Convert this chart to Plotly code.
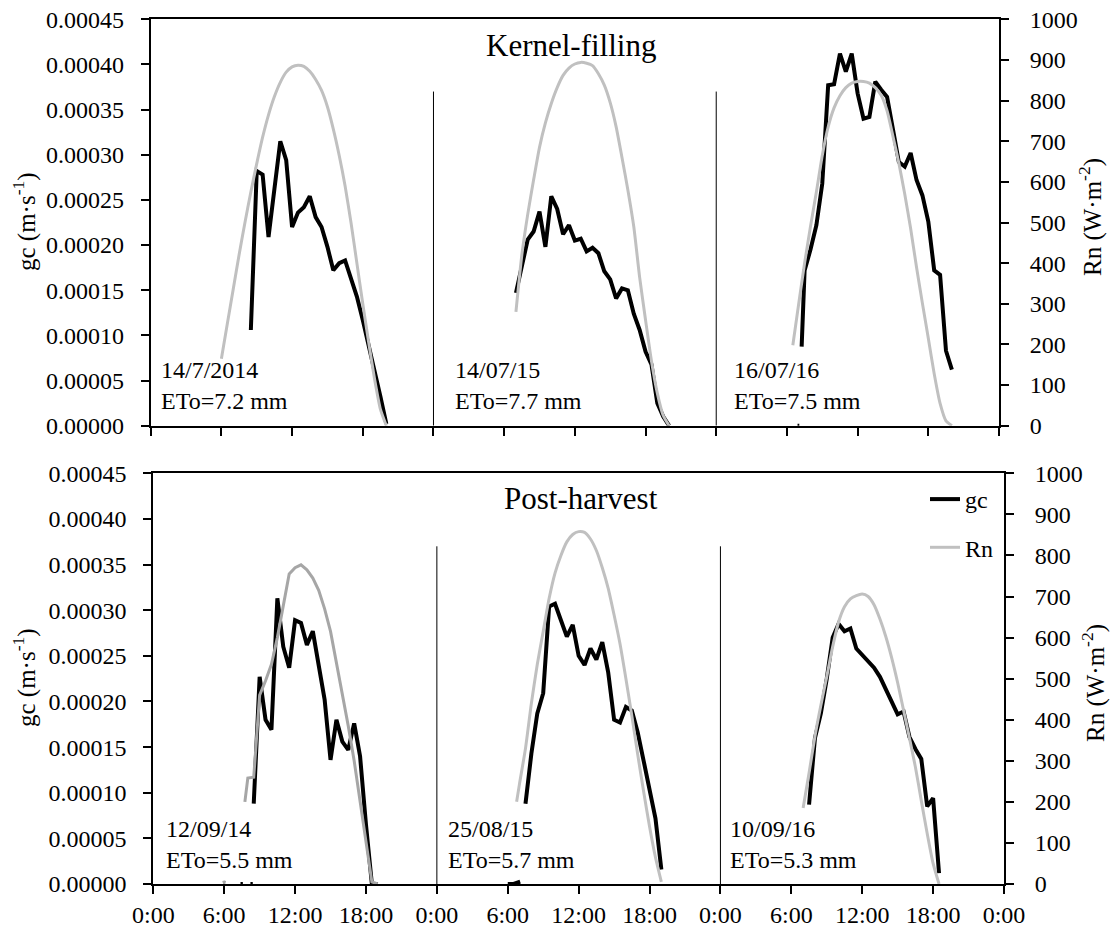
import plotly.graph_objects as go

# ---------------- data (hours of each day) ----------------
# Kernel-filling (top panel)
kf_dates = ["14/7/2014", "14/07/15", "16/07/16"]
kf_eto = ["ETo=7.2 mm", "ETo=7.7 mm", "ETo=7.5 mm"]

kf1_gc_t = [8.5, 9.0, 9.5, 10.0, 10.5, 11.0, 11.5, 12.0, 12.5, 13.0, 13.5, 14.0, 14.5, 15.0,
            15.5, 16.0, 16.5, 17.0, 17.5, 18.0, 18.5, 19.0, 19.5, 20.0]
kf1_gc = [0.000106, 0.000282, 0.000278, 0.000209, 0.000262, 0.000315, 0.000294, 0.000220,
          0.000236, 0.000242, 0.000254, 0.000231, 0.000220, 0.000198, 0.000172, 0.000180,
          0.000183, 0.000163, 0.000143, 0.000117, 0.000090, 0.000062, 0.000032, 0.000002]
kf1_rn_t = [6.0, 6.5, 7.0, 7.5, 8.0, 8.5, 9.0, 9.5, 10.0, 10.5, 11.0, 11.5, 12.0, 12.5, 13.0,
            13.5, 14.0, 14.5, 15.0, 15.5, 16.0, 16.5, 17.0, 17.5, 18.0, 18.5, 19.0, 19.5, 20.0]
kf1_rn = [165, 250, 335, 420, 500, 575, 645, 710, 765, 810, 845, 870, 883, 887, 884, 872, 852,
          825, 785, 730, 665, 590, 500, 400, 300, 205, 115, 40, 0]

kf2_gc_t = [7.0, 7.5, 8.0, 8.5, 9.0, 9.5, 10.0, 10.5, 11.0, 11.5, 12.0, 12.5, 13.0, 13.5, 14.0,
            14.5, 15.0, 15.5, 16.0, 16.5, 17.0, 17.5, 18.0, 18.5, 19.0, 19.5, 20.0]
kf2_gc = [0.000147, 0.000175, 0.000206, 0.000215, 0.000237, 0.000198, 0.000254, 0.000240,
          0.000212, 0.000222, 0.000205, 0.000207, 0.000193, 0.000197, 0.000191, 0.000171,
          0.000162, 0.000141, 0.000152, 0.000150, 0.000124, 0.000106, 0.000082, 0.000068,
          0.000025, 0.000010, 0.000000]
kf2_rn_t = [7.0, 7.5, 8.0, 8.5, 9.0, 9.5, 10.0, 10.5, 11.0, 11.5, 12.0, 12.5, 13.0, 13.5, 14.0,
            14.5, 15.0, 15.5, 16.0, 16.5, 17.0, 17.5, 18.0, 18.5, 19.0, 19.5, 20.0]
kf2_rn = [280, 420, 520, 605, 685, 745, 793, 832, 862, 880, 890, 894, 892, 886, 866, 838, 795,
          736, 660, 580, 490, 365, 260, 160, 80, 25, 0]

kf3_gc_t = [7.25, 7.5, 8.0, 8.5, 9.0, 9.5, 10.0, 10.5, 11.0, 11.5, 12.0, 12.5, 13.0, 13.5, 14.0,
            14.5, 15.0, 15.5, 16.0, 16.5, 17.0, 17.5, 18.0, 18.5, 19.0, 19.5, 20.0]
kf3_gc = [0.0000875, 0.000172, 0.000195, 0.000222, 0.000268, 0.000377, 0.000378, 0.000412,
          0.000392, 0.000412, 0.000368, 0.000340, 0.000342, 0.000381, 0.000372, 0.000364,
          0.000328, 0.000292, 0.000287, 0.000302, 0.000272, 0.000255, 0.000226, 0.000172,
          0.000167, 0.000083, 0.000062]
kf3_gc_mark_t = [6.9, 7.05]
kf3_gc_mark = [0.0, 0.0]
kf3_rn_t = [6.5, 7.0, 7.5, 8.0, 8.5, 9.0, 9.5, 10.0, 10.5, 11.0, 11.5, 12.0, 12.5, 13.0, 13.5,
            14.0, 14.5, 15.0, 15.5, 16.0, 16.5, 17.0, 17.5, 18.0, 18.5, 19.0, 19.5, 20.0]
kf3_rn = [198, 300, 400, 490, 575, 665, 735, 782, 812, 832, 843, 847, 847, 843, 832, 813, 775,
          712, 646, 570, 485, 390, 301, 215, 128, 55, 12, 0]

# Post-harvest (bottom panel)
ph_dates = ["12/09/14", "25/08/15", "10/09/16"]
ph_eto = ["ETo=5.5 mm", "ETo=5.7 mm", "ETo=5.3 mm"]

ph1_gc_t = [8.5, 9.0, 9.5, 10.0, 10.5, 11.0, 11.5, 12.0, 12.5, 13.0, 13.5, 14.0, 14.5, 15.0,
            15.5, 16.0, 16.5, 17.0, 17.5, 18.0, 18.5, 19.0]
ph1_gc = [0.000088, 0.000227, 0.000180, 0.000169, 0.000313, 0.000260, 0.000237, 0.000289,
          0.000286, 0.000262, 0.000277, 0.000238, 0.000202, 0.000136, 0.000180, 0.000156,
          0.000147, 0.000176, 0.000140, 0.000065, 0.000000, 0.000000]
ph1_gc_mark_t = [7.38, 7.58, None, 8.22, 8.42]
ph1_gc_mark = [0.0, 0.0, None, 0.0, 0.0]
ph1_rn_t = [7.75, 8.0, 8.5, 9.0, 9.5, 10.0, 10.5, 11.0, 11.5, 12.0, 12.5, 13.0, 13.5, 14.0,
            14.5, 15.0, 15.5, 16.0, 16.5, 17.0, 17.5, 18.0, 18.5, 19.0]
ph1_rn = [200, 258, 260, 460, 495, 535, 600, 680, 755, 770, 777, 765, 745, 715, 670, 615, 540,
          460, 385, 300, 205, 100, 5, 0]
ph1_rn_mark_t = [5.92, 6.0, 6.08]
ph1_rn_mark = [8, 0, 8]

ph2_gc_t = [7.5, 8.0, 8.5, 9.0, 9.5, 10.0, 10.5, 11.0, 11.5, 12.0, 12.5, 13.0, 13.5, 14.0,
            14.5, 15.0, 15.5, 16.0, 16.5, 17.0, 17.5, 18.0, 18.5, 19.0]
ph2_gc = [0.000088, 0.000143, 0.000187, 0.000209, 0.000304, 0.000307, 0.000289, 0.000271,
          0.000284, 0.000250, 0.000240, 0.000258, 0.000246, 0.000265, 0.000232, 0.000180,
          0.000177, 0.000194, 0.000190, 0.000166, 0.000135, 0.000102, 0.000072, 0.000016]
ph2_gc_mark_t = [6.0, 6.5, 7.05]
ph2_gc_mark = [0.0, 0.0, 0.0000025]
ph2_rn_t = [6.75, 7.0, 7.5, 8.0, 8.5, 9.0, 9.5, 10.0, 10.5, 11.0, 11.5, 12.0, 12.5, 13.0, 13.5,
            14.0, 14.5, 15.0, 15.5, 16.0, 16.5, 17.0, 17.5, 18.0, 18.5, 19.0]
ph2_rn = [200, 245, 330, 440, 535, 615, 695, 757, 800, 833, 851, 858, 856, 840, 812, 770, 720,
          655, 585, 500, 410, 315, 225, 140, 65, 5]

ph3_gc_t = [7.5, 8.0, 8.5, 9.0, 9.5, 10.0, 10.5, 11.0, 11.5, 12.0, 12.5, 13.0, 13.5, 14.0,
            14.5, 15.0, 15.5, 16.0, 16.5, 17.0, 17.5, 18.0, 18.5]
ph3_gc = [0.000087, 0.000160, 0.000187, 0.000225, 0.000270, 0.000285, 0.000277, 0.000280,
          0.000258, 0.000251, 0.000245, 0.000237, 0.000227, 0.000214, 0.000200, 0.000186,
          0.000189, 0.000161, 0.000148, 0.000137, 0.000085, 0.000094, 0.000012]
ph3_rn_t = [7.0, 7.5, 8.0, 8.5, 9.0, 9.5, 10.0, 10.5, 11.0, 11.5, 12.0, 12.5, 13.0, 13.5, 14.0,
            14.5, 15.0, 15.5, 16.0, 16.5, 17.0, 17.5, 18.0, 18.5]
ph3_rn = [185, 270, 360, 435, 505, 578, 638, 675, 694, 702, 706, 700, 680, 645, 602, 550, 490,
          423, 355, 285, 203, 123, 50, 0]

x_tickvals = [0, 6, 12, 18, 24, 30, 36, 42, 48, 54, 60, 66, 72]
x_ticktext = ["0:00", "6:00", "12:00", "18:00"] * 3 + ["0:00"]
gc_ticks = [0.0, 0.00005, 0.0001, 0.00015, 0.0002, 0.00025, 0.0003, 0.00035, 0.0004, 0.00045]
gc_ticktext = ["%.5f" % v for v in gc_ticks]
rn_ticks = list(range(0, 1001, 100))
separator_days = [24, 48]
separator_top = 0.00037

# ---------------- styling ----------------
W, H = 1114, 930
FONT = "Times New Roman, Liberation Serif, serif"
BLACK = "#000000"
GREY = "#c0c0c0"
GREY_DARK = "#a6a6a6"
TS = 24   # tick / label size


def fx(p):
    return p / W


def fy(p):
    return 1 - p / H


def shift(t, d):
    return [None if v is None else v + 24 * d for v in t]


fig = go.Figure()

panels = [
    dict(xa="x", ya="y", ya2="y2",
         gc=[(kf1_gc_t, kf1_gc), (kf2_gc_t, kf2_gc), (kf3_gc_t, kf3_gc)],
         gcm=[None, None, (kf3_gc_mark_t, kf3_gc_mark)],
         rn=[(kf1_rn_t, kf1_rn, GREY, "spline"), (kf2_rn_t, kf2_rn, GREY, "spline"),
             (kf3_rn_t, kf3_rn, GREY, "spline")],
         rnm=[None, None, None]),
    dict(xa="x2", ya="y3", ya2="y4",
         gc=[(ph1_gc_t, ph1_gc), (ph2_gc_t, ph2_gc), (ph3_gc_t, ph3_gc)],
         gcm=[(ph1_gc_mark_t, ph1_gc_mark), (ph2_gc_mark_t, ph2_gc_mark), None],
         rn=[(ph1_rn_t, ph1_rn, GREY_DARK, "linear"), (ph2_rn_t, ph2_rn, GREY, "spline"),
             (ph3_rn_t, ph3_rn, GREY, "spline")],
         rnm=[(ph1_rn_mark_t, ph1_rn_mark), None, None]),
]

first_gc = True
for p in panels:
    for d, (t, v) in enumerate(p["gc"]):
        fig.add_trace(go.Scatter(x=shift(t, d), y=v, mode="lines", name="gc",
                                 legendgroup="gc", showlegend=first_gc,
                                 line=dict(color=BLACK, width=4),
                                 xaxis=p["xa"], yaxis=p["ya"]))
        first_gc = False
    for d, m in enumerate(p["gcm"]):
        if m is not None:
            fig.add_trace(go.Scatter(x=shift(m[0], d), y=m[1], mode="lines",
                                     showlegend=False, connectgaps=False,
                                     line=dict(color=BLACK, width=4),
                                     xaxis=p["xa"], yaxis=p["ya"]))

first_rn = True
for p in panels:
    for d, (t, v, col, shape) in enumerate(p["rn"]):
        fig.add_trace(go.Scatter(x=shift(t, d), y=v, mode="lines", name="Rn",
                                 legendgroup="rn", showlegend=first_rn,
                                 line=dict(color=col, width=3, shape=shape, smoothing=0.6),
                                 xaxis=p["xa"], yaxis=p["ya2"]))
        first_rn = False
    for d, m in enumerate(p["rnm"]):
        if m is not None:
            fig.add_trace(go.Scatter(x=shift(m[0], d), y=m[1], mode="lines",
                                     showlegend=False,
                                     line=dict(color=GREY_DARK, width=2),
                                     xaxis=p["xa"], yaxis=p["ya2"]))

tick_font = dict(family=FONT, size=TS, color=BLACK)
axis_common = dict(showgrid=False, zeroline=False, showline=True, linecolor=BLACK,
                   linewidth=2, ticks="outside", ticklen=8, tickwidth=2, tickcolor=BLACK,
                   tickfont=tick_font)

top_dom_x = [fx(150.7), fx(999.0)]
bot_dom_x = [fx(153.3), fx(1004.0)]
top_dom_y = [fy(425.7), fy(19.3)]
bot_dom_y = [fy(884.0), fy(473.3)]

fig.update_layout(
    width=W, height=H,
    margin=dict(l=0, r=0, t=0, b=0, autoexpand=False),
    paper_bgcolor="white", plot_bgcolor="white",
    font=dict(family=FONT, size=TS, color=BLACK),
    xaxis=dict(domain=top_dom_x, anchor="y", range=[0, 72], tickvals=x_tickvals,
               showticklabels=False, mirror=True, **axis_common),
    yaxis=dict(domain=top_dom_y, anchor="x", range=[0, 0.00045], tickvals=gc_ticks,
               ticktext=gc_ticktext, ticklabelstandoff=12, **axis_common),
    yaxis2=dict(overlaying="y", anchor="x", side="right", range=[0, 1000], tickvals=rn_ticks,
                ticklabelstandoff=16, **axis_common),
    xaxis2=dict(domain=bot_dom_x, anchor="y3", range=[0, 72], tickvals=x_tickvals,
                ticktext=x_ticktext, mirror=True, ticklabelstandoff=0, **axis_common),
    yaxis3=dict(domain=bot_dom_y, anchor="x2", range=[0, 0.00045], tickvals=gc_ticks,
                ticktext=gc_ticktext, ticklabelstandoff=12, **axis_common),
    yaxis4=dict(overlaying="y3", anchor="x2", side="right", range=[0, 1000],
                tickvals=rn_ticks, ticklabelstandoff=16, **axis_common),
    legend=dict(x=fx(925), y=fy(477), xanchor="left", yanchor="top",
                bgcolor="rgba(0,0,0,0)", font=dict(family=FONT, size=TS, color=BLACK),
                traceorder="grouped", tracegroupgap=14, itemwidth=30),
    showlegend=True,
)

# separator lines between days
for xa, ya in [("x", "y"), ("x2", "y3")]:
    for s in separator_days:
        fig.add_shape(type="line", xref=xa, yref=ya, x0=s, x1=s, y0=0, y1=separator_top,
                      line=dict(color=BLACK, width=1))

ann = []
ann.append(dict(text="Kernel-filling", x=fx(571), y=fy(46), xref="paper", yref="paper",
                xanchor="center", yanchor="middle", showarrow=False,
                font=dict(family=FONT, size=31, color=BLACK)))
ann.append(dict(text="Post-harvest", x=fx(581), y=fy(499), xref="paper", yref="paper",
                xanchor="center", yanchor="middle", showarrow=False,
                font=dict(family=FONT, size=31, color=BLACK)))
kf_x = [159, 453, 732]
for i in range(3):
    ann.append(dict(text=kf_dates[i] + "<br>" + kf_eto[i], x=fx(kf_x[i]), y=fy(385),
                    xref="paper", yref="paper", xanchor="left", yanchor="middle",
                    align="left", showarrow=False,
                    font=dict(family=FONT, size=TS, color=BLACK)))
ph_x = [164, 446, 728]
for i in range(3):
    ann.append(dict(text=ph_dates[i] + "<br>" + ph_eto[i], x=fx(ph_x[i]), y=fy(844),
                    xref="paper", yref="paper", xanchor="left", yanchor="middle",
                    align="left", showarrow=False,
                    font=dict(family=FONT, size=TS, color=BLACK)))
for yc in [222, 678]:
    ann.append(dict(text="gc (m·s<sup>-1</sup>)", x=fx(24), y=fy(yc), xref="paper",
                    yref="paper", xanchor="center", yanchor="middle", textangle=-90,
                    showarrow=False, font=dict(family=FONT, size=25, color=BLACK)))
for xc, yc in [(1090, 217), (1093, 683)]:
    ann.append(dict(text="Rn (W·m<sup>-2</sup>)", x=fx(xc), y=fy(yc), xref="paper",
                    yref="paper", xanchor="center", yanchor="middle", textangle=-90,
                    showarrow=False, font=dict(family=FONT, size=25, color=BLACK)))
fig.update_layout(annotations=ann)

fig.write_html("out.html")
